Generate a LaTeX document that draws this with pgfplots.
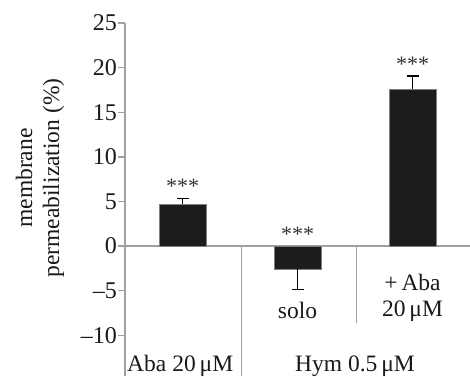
\documentclass[border=0pt]{standalone}
\usepackage{pgfplots}
\pgfplotsset{compat=1.18}
\usepackage{fontspec}
\setmainfont{Liberation Serif}
\definecolor{axgray}{RGB}{160,160,160}
\definecolor{barblack}{RGB}{28,28,28}
\begin{document}
\begin{tikzpicture}[font=\fontsize{23.5}{27}\selectfont]
\useasboundingbox (0,0) rectangle (470pt,376pt);
\begin{axis}[
 at={(125pt,0pt)}, anchor=south west,
 scale only axis, width=345pt, height=353pt,
 xmin=-0.5, xmax=2.5, ymin=-14.56, ymax=25,
 axis y line*=left, axis x line=none,
 y axis line style={axgray, line width=1.3pt},
 ytick={-10,-5,0,5,10,15,20,25},
 yticklabels={–10,–5,0,5,10,15,20,25},
 tick align=outside, major tick length=7pt,
 every tick/.style={axgray, line width=1.3pt},
 yticklabel style={font=\fontsize{24}{27}\selectfont, inner xsep=1pt, text=black!90},
 clip=false,
]
% zero line and group separators
\addplot[axgray, line width=1.3pt] coordinates {(-0.5,0) (2.5,0)};
\addplot[axgray, line width=1.3pt] coordinates {(0.51,0) (0.51,-14.56)};
\addplot[axgray, line width=1.3pt] coordinates {(1.51,0) (1.51,-8.6)};
% bars
\addplot[ybar, bar width=47pt, fill=barblack, draw=gray, line width=0.6pt]
  coordinates {(0,4.7) (1,-2.6) (2,17.6)};
% error bars (one-sided)
\addplot[draw=none, mark=none,
  error bars/.cd, y dir=plus, y explicit,
  error bar style={draw=black, line width=1.3pt},
  error mark options={rotate=90, mark size=6pt, line width=1.3pt, draw=black}]
  coordinates {(0,4.7) +- (0,0.65) (2,17.6) +- (0,1.45)};
\addplot[draw=none, mark=none,
  error bars/.cd, y dir=minus, y explicit,
  error bar style={draw=black, line width=1.3pt},
  error mark options={rotate=90, mark size=6pt, line width=1.3pt, draw=black}]
  coordinates {(1,-2.6) +- (0,2.3)};
% significance marks
\node[text=black!80, font=\fontsize{22}{25}\selectfont] at (axis cs:0,6.75) {***};
\node[text=black!80, font=\fontsize{22}{25}\selectfont] at (axis cs:1,1.35) {***};
\node[text=black!80, font=\fontsize{22}{25}\selectfont] at (axis cs:2,20.4) {***};
% category labels
\node[text=black!90] at (axis cs:1,-7.17) {solo};
\node[text=black!90] at (axis cs:2,-4.04) {+\,Aba};
\node[text=black!90] at (axis cs:2,-7.29) {20\,μM};
\node[text=black!90] at (axis cs:-0.02,-13.45) {Aba 20\,μM};
\node[text=black!90] at (axis cs:1.5,-13.45) {Hym 0.5\,μM};
\end{axis}
\node[rotate=90, align=center, text=black!90, font=\fontsize{23.5}{27}\selectfont] at (40pt,198pt) {membrane\\permeabilization (\%)};
\end{tikzpicture}
\end{document}
